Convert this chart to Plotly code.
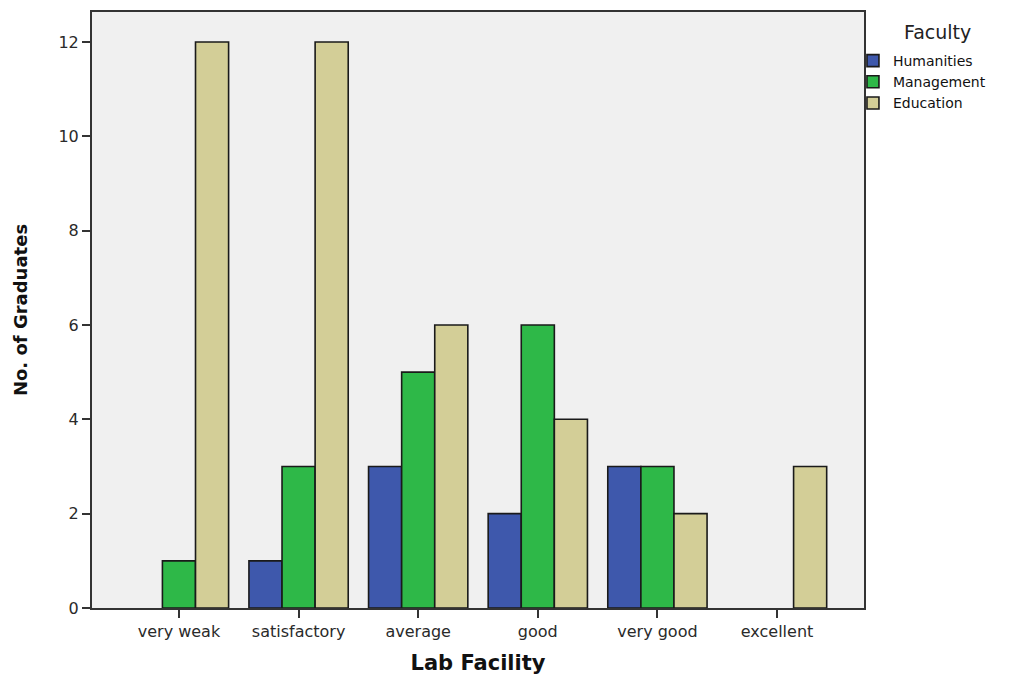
import plotly.graph_objects as go

# Lab facility ratings by faculty (counts of graduates)
categories = ["very weak", "satisfactory", "average", "good", "very good", "excellent"]
humanities = [0, 1, 3, 2, 3, 0]
management = [1, 3, 5, 6, 3, 0]
education = [12, 12, 6, 4, 2, 3]

series = [
    ("Humanities", humanities, "#3E58AC"),
    ("Management", management, "#2EB848"),
    ("Education", education, "#D3CE97"),
]

FONT = "DejaVu Sans, Arial, sans-serif"

fig = go.Figure()
for name, values, color in series:
    # zero counts are left empty so no flat outline is drawn on the axis
    shown = [v if v > 0 else None for v in values]
    fig.add_trace(go.Bar(
        x=categories,
        y=shown,
        name=name,
        marker=dict(color=color, line=dict(color="#1a1a1a", width=1.6)),
    ))

tick_font = dict(family=FONT, size=16, color="#2a2a2a")

# legend heading, placed above the legend entries
fig.add_annotation(
    text="Faculty",
    xref="paper", yref="paper",
    x=1.0946, y=0.9664,
    xanchor="center", yanchor="middle",
    showarrow=False,
    font=dict(family=FONT, size=19, color="#222222"),
)

fig.update_layout(
    width=1010,
    height=675,
    margin=dict(l=92, r=146, t=12, b=67, autoexpand=False),
    paper_bgcolor="white",
    plot_bgcolor="#F0F0F0",
    barmode="group",
    bargap=0.17,
    bargroupgap=0,
    font=tick_font,
    showlegend=True,
    legend=dict(
        x=0.9857,
        xanchor="left",
        y=0.9446,
        yanchor="top",
        font=dict(family=FONT, size=14, color="#111111"),
        bgcolor="rgba(0,0,0,0)",
        tracegroupgap=0,
        itemwidth=30,
    ),
    xaxis=dict(
        type="category",
        range=[-0.727, 5.727],
        showgrid=False,
        showline=True,
        linecolor="#333333",
        linewidth=2,
        mirror=True,
        ticks="outside",
        ticklen=8,
        tickwidth=2,
        tickcolor="#333333",
        tickfont=tick_font,
        title=dict(text="<b>Lab Facility</b>", standoff=16,
                   font=dict(family=FONT, size=21, color="#111111")),
        zeroline=False,
    ),
    yaxis=dict(
        range=[0, 12.635],
        tickvals=[0, 2, 4, 6, 8, 10, 12],
        showgrid=False,
        showline=True,
        linecolor="#333333",
        linewidth=2,
        mirror=True,
        ticks="outside",
        ticklen=8,
        tickwidth=2,
        tickcolor="#333333",
        tickfont=tick_font,
        title=dict(text="<b>No. of Graduates</b>", standoff=26,
                   font=dict(family=FONT, size=18, color="#111111")),
        zeroline=False,
    ),
)

fig.write_html("out.html")
